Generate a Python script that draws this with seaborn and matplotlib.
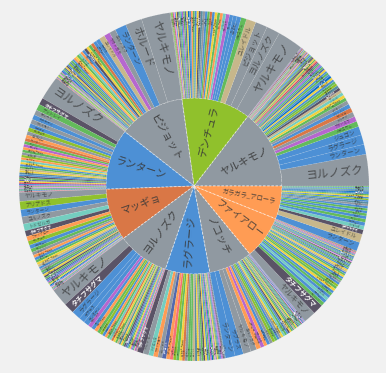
import numpy as np
import matplotlib
matplotlib.use("Agg")
import matplotlib.pyplot as plt
import seaborn as sns

sns.set_theme(style="white")
plt.rcParams['font.family'] = ['Noto Sans CJK JP', 'DejaVu Sans']

BG = "#f1f1f1"

# ---------------- data ----------------
parents = ["ヤルキモノ", "デンチュラ", "ピジョット", "ランターン", "マッギョ",
           "ヨルノズク", "ラグラージ", "ノコッチ", "ファイアロー", "ガラガラ_アローラ"]

type_colors = {
    "normal": "#9099a1", "fire": "#ff9c54", "water": "#4d90d5", "grass": "#63bb5b",
    "electric": "#f3d23b", "ice": "#74cec0", "fighting": "#ce4069", "poison": "#b667cf",
    "ground": "#d97746", "flying": "#8fa8dd", "psychic": "#f97176", "bug": "#90c12c",
    "rock": "#c7b78b", "ghost": "#5269ac", "dragon": "#0a6dc4", "dark": "#5a5366",
    "steel": "#5a8ea1", "fairy": "#ec8fe6",
}

type_members = {
    "normal": ["ヤルキモノ", "ヨルノズク", "ピジョット", "ホルード", "ノコッチ", "ミルタンク", "ミミロップ"],
    "water": ["ランターン", "ラグラージ", "ジュゴン", "トリトドン", "マリルリ", "ラプラス", "ヌオー",
              "マンタイン", "ルンパッパ", "キングドラ", "ニョロボン"],
    "grass": ["メガニウム", "ナットレイ", "ウツボット", "フシギバナ", "トロピウス", "エルフーン",
              "ダーテング", "ジャローダ", "ワタッコ"],
    "electric": ["ライチュウ_アローラ", "ゼブライカ", "デデンネ", "エレキブル"],
    "ice": ["トドゼルガ"],
    "rock": ["ユレイドル", "ゴローニャ_アローラ"],
    "dark": ["タチフサグマ", "ブラッキー", "ドンカラス", "ヤミラミ"],
    "steel": ["エアームド", "レジスチル", "ハガネール"],
    "bug": ["デンチュラ", "ツボツボ", "アリアドス"],
    "dragon": ["チルタリス"],
    "ghost": ["オーロット"],
    "poison": ["マタドガス", "ニドクイン", "クロバット"],
    "fighting": ["チャーレム"],
    "fairy": ["ピクシー"],
    "psychic": ["ソーナンス"],
    "fire": ["ファイアロー", "ガラガラ_アローラ", "エンブオー"],
    "ground": ["マッギョ"],
}

yarukimono_names = ["ヨルノズク", "ランターン", "ラグラージ", "ジュゴン", "メガニウム", "マタドガス", "ホルード",
    "マッギョ", "トリトドン", "ピジョット", "ナットレイ", "ライチュウ_アローラ", "トドゼルガ", "ユレイドル",
    "タチフサグマ", "エアームド", "デンチュラ", "ウツボット", "マリルリ", "ゼブライカ", "チルタリス", "ラプラス",
    "フシギバナ", "ヌオー", "デデンネ", "オーロット", "トロピウス", "マンタイン", "ニドクイン", "エルフーン",
    "レジスチル", "チャーレム", "ガラガラ_アローラ", "ダーテング", "エレキブル", "ブラッキー", "ドンカラス",
    "ジャローダ", "ルンパッパ", "キングドラ", "ツボツボ", "ピクシー", "ハガネール", "ソーナンス", "ミルタンク",
    "ワタッコ", "ゴローニャ_アローラ", "ニョロボン", "ファイアロー", "ヤミラミ", "クロバット", "ミミロップ"]
yarukimono_vals = [10.5, 3.3, 3.2, 2.9, 1.8, 1.7, 1.6, 1.5, 1.4, 1.3, 1.1, 1.0, 1.0, 0.95, 0.9, 0.9, 0.85,
    0.8, 0.8, 0.75, 0.75, 0.7, 0.7, 0.65, 0.65, 0.6, 0.6, 0.55, 0.55, 0.5, 0.5, 0.5, 0.45, 0.45, 0.45,
    0.4, 0.4, 0.4, 0.4, 0.35, 0.35, 0.35, 0.3, 0.3, 0.3, 0.3, 0.3, 0.3, 0.25, 0.25, 0.25, 0.25]

denchura_names = ["ヤルキモノ", "ヨルノズク", "ピジョット", "ユレイドル", "メガニウム", "ラグラージ", "ランターン",
    "マリルリ", "マタドガス", "トドゼルガ", "ファイアロー", "ナットレイ", "ライチュウ_アローラ", "ジュゴン",
    "マッギョ", "フシギバナ", "ラプラス", "ホルード", "エアームド", "タチフサグマ", "ゼブライカ", "トリトドン",
    "ウツボット", "ガラガラ_アローラ", "ヌオー", "チルタリス", "デデンネ", "オーロット", "トロピウス",
    "ニドクイン", "マンタイン", "エルフーン", "レジスチル", "ブラッキー", "エレキブル", "キングドラ",
    "ピクシー", "チャーレム", "ワタッコ", "ツボツボ", "ミルタンク"]
denchura_vals = [8.5, 4.5, 4.0, 3.2, 1.8, 1.4, 1.3, 1.2, 1.2, 1.0, 0.95, 0.9, 0.85, 0.85, 0.8, 0.8,
    0.75, 0.75, 0.7, 0.7, 0.65, 0.65, 0.6, 0.6, 0.55, 0.55, 0.5, 0.5, 0.5, 0.45, 0.45, 0.4, 0.4, 0.4,
    0.35, 0.35, 0.35, 0.3, 0.3, 0.3, 0.3]

pijotto_names = ["ヤルキモノ", "ホルード", "ランターン", "ヨルノズク", "マタドガス", "ユレイドル", "ラプラス",
    "ラグラージ", "マッギョ", "ナットレイ", "ライチュウ_アローラ", "タチフサグマ", "ジュゴン", "ファイアロー",
    "トドゼルガ", "フシギバナ", "ゼブライカ", "ガラガラ_アローラ", "マリルリ", "ウツボット", "エアームド",
    "デンチュラ", "トリトドン", "ブラッキー", "デデンネ", "オーロット", "エルフーン", "ヌオー", "チルタリス",
    "ニドクイン", "トロピウス", "ミルタンク", "ピクシー", "ワタッコ", "ダーテング", "エレキブル", "キングドラ",
    "ソーナンス"]
pijotto_vals = [9.5, 5.5, 3.8, 2.1, 2.0, 1.9, 1.3, 1.1, 1.0, 0.95, 0.9, 0.9, 0.85, 0.8, 0.75, 0.75,
    0.7, 0.7, 0.65, 0.6, 0.6, 0.55, 0.55, 0.5, 0.5, 0.45, 0.45, 0.4, 0.4, 0.35, 0.35, 0.3, 0.3, 0.3,
    0.3, 0.3, 0.3, 0.25]

rantan_names = ["ヨルノズク", "タチフサグマ", "ナットレイ", "ホルード", "ラグラージ", "ヤルキモノ", "ラプラス",
    "デンチュラ", "ピジョット", "ファイアロー", "マッギョ", "ウツボット", "マタドガス", "ガラガラ_アローラ",
    "フシギバナ", "ミルタンク", "アリアドス", "エンブオー", "トドゼルガ", "ライチュウ_アローラ", "マリルリ",
    "トロピウス", "ユレイドル", "ゼブライカ", "エアームド", "ジュゴン", "ブラッキー", "エルフーン", "オーロット",
    "デデンネ", "チャーレム", "ヌオー", "ニドクイン", "ダーテング", "ピクシー", "レジスチル", "ワタッコ",
    "キングドラ", "ソーナンス"]
rantan_vals = [8.0, 2.3, 2.1, 1.7, 1.6, 1.5, 1.4, 1.3, 1.2, 1.1, 1.05, 1.0, 0.95, 0.9, 0.9, 0.85,
    0.8, 0.8, 0.75, 0.75, 0.7, 0.7, 0.65, 0.65, 0.6, 0.6, 0.55, 0.55, 0.5, 0.5, 0.45, 0.45, 0.4, 0.4,
    0.35, 0.35, 0.3, 0.3, 0.25]

maggyo_names = ["ヤルキモノ", "アリアドス", "ランターン", "ヨルノズク", "トドゼルガ", "タチフサグマ",
    "ファイアロー", "デンチュラ", "ラグラージ", "ナットレイ", "ピジョット", "ガラガラ_アローラ", "ジュゴン",
    "フシギバナ", "ライチュウ_アローラ", "ユレイドル", "マリルリ", "ホルード", "ウツボット", "エアームド",
    "ゼブライカ", "ブラッキー", "トロピウス", "オーロット", "ラプラス", "マタドガス", "エルフーン", "デデンネ",
    "チルタリス", "ヌオー", "ピクシー", "ワタッコ", "ミルタンク", "キングドラ", "ソーナンス"]
maggyo_vals = [3.0, 2.7, 2.4, 2.4, 2.3, 1.9, 1.6, 1.4, 1.3, 1.2, 1.0, 0.95, 0.9, 0.85, 0.8, 0.8,
    0.75, 0.7, 0.7, 0.65, 0.6, 0.6, 0.55, 0.5, 0.5, 0.45, 0.45, 0.4, 0.4, 0.35, 0.35, 0.3, 0.3, 0.25, 0.2]

yorunozuku_names = ["ヤルキモノ", "タチフサグマ", "ラグラージ", "ラプラス", "ランターン", "マタドガス",
    "マリルリ", "ファイアロー", "ナットレイ", "デンチュラ", "ジュゴン", "ガラガラ_アローラ", "ウツボット",
    "トドゼルガ", "マッギョ", "ライチュウ_アローラ", "フシギバナ", "ユレイドル", "エアームド", "ゼブライカ",
    "トロピウス", "ブラッキー", "オーロット", "トリトドン", "エルフーン", "デデンネ", "ニドクイン", "ヌオー",
    "ワタッコ", "ピクシー", "チャーレム", "キングドラ", "ソーナンス"]
yorunozuku_vals = [6.0, 3.5, 3.0, 1.9, 1.8, 1.3, 1.2, 1.1, 1.0, 0.95, 0.9, 0.85, 0.8, 0.8, 0.75,
    0.7, 0.7, 0.65, 0.6, 0.6, 0.55, 0.55, 0.5, 0.5, 0.45, 0.45, 0.4, 0.4, 0.35, 0.3, 0.3, 0.3, 0.25]

ragurago_names = ["タチフサグマ", "ヤルキモノ", "トドゼルガ", "ファイアロー", "ヨルノズク", "オーロット",
    "ガラガラ_アローラ", "ソーナンス", "デンチュラ", "ナットレイ", "ライチュウ_アローラ", "マッギョ",
    "ピジョット", "フシギバナ", "ウツボット", "ユレイドル", "エアームド", "ゼブライカ", "ホルード",
    "トロピウス", "ブラッキー", "デデンネ", "ジュゴン", "エルフーン", "マタドガス", "チルタリス", "ワタッコ",
    "ピクシー", "ミルタンク", "エレキブル", "ダーテング", "レジスチル", "ヌオー", "クロバット", "ニドクイン",
    "ドンカラス", "ヤミラミ", "ハガネール"]
ragurago_vals = [2.0, 1.9, 1.6, 1.5, 1.4, 1.4, 1.2, 1.1, 1.0, 1.0, 0.95, 0.9, 0.9, 0.85, 0.8, 0.8,
    0.75, 0.7, 0.7, 0.65, 0.6, 0.6, 0.55, 0.5, 0.5, 0.45, 0.45, 0.4, 0.4, 0.35, 0.35, 0.35, 0.35,
    0.3, 0.3, 0.3, 0.25, 0.25]

nokocchi_names = ["ランターン", "ラプラス", "ヤルキモノ", "ヨルノズク", "ガラガラ_アローラ", "マタドガス",
    "ファイアロー", "ラグラージ", "ピジョット", "デンチュラ", "ナットレイ", "ジュゴン", "ホルード",
    "ライチュウ_アローラ", "トドゼルガ", "フシギバナ", "マリルリ", "タチフサグマ", "ゼブライカ", "ウツボット",
    "エアームド", "ユレイドル", "トロピウス", "デデンネ", "オーロット", "エルフーン", "ヌオー", "ワタッコ",
    "ブラッキー", "ピクシー", "チルタリス", "ミルタンク", "ニドクイン", "キングドラ"]
nokocchi_vals = [3.2, 2.8, 2.6, 2.0, 1.5, 1.2, 1.1, 1.0, 0.95, 0.9, 0.85, 0.8, 0.75, 0.7, 0.7, 0.65,
    0.6, 0.6, 0.55, 0.55, 0.5, 0.5, 0.45, 0.45, 0.4, 0.4, 0.35, 0.35, 0.3, 0.3, 0.3, 0.25, 0.25, 0.2]

faiaro_names = ["ヤルキモノ", "タチフサグマ", "ナットレイ", "ラグラージ", "トドゼルガ", "ランターン",
    "フシギバナ", "ジュゴン", "ライチュウ_アローラ", "ウツボット", "デンチュラ", "マリルリ", "ヨルノズク",
    "トロピウス", "ラプラス", "ゼブライカ", "エルフーン", "トリトドン", "ユレイドル", "デデンネ", "ヌオー",
    "ダーテング", "エアームド", "マンタイン", "ワタッコ", "ブラッキー", "ピクシー", "オーロット", "ジャローダ",
    "キングドラ", "レジスチル", "チルタリス", "エレキブル", "ルンパッパ", "ミルタンク", "ニドクイン",
    "ソーナンス", "ハガネール", "マッギョ"]
faiaro_vals = [4.0, 3.5, 1.2, 1.1, 1.0, 1.0, 0.95, 0.9, 0.9, 0.85, 0.8, 0.8, 0.75, 0.7, 0.7, 0.65,
    0.6, 0.6, 0.55, 0.55, 0.5, 0.5, 0.45, 0.45, 0.4, 0.4, 0.35, 0.35, 0.35, 0.35, 0.3, 0.3, 0.3, 0.3,
    0.3, 0.3, 0.25, 0.25, 0.25]

garagara_names = ["ランターン", "ユレイドル", "タチフサグマ", "トドゼルガ", "ラグラージ", "ナットレイ",
    "ジュゴン", "ウツボット", "ラプラス", "トロピウス", "マリルリ", "ヤルキモノ", "エアームド", "トリトドン",
    "デンチュラ", "ヌオー", "ライチュウ_アローラ", "エルフーン", "マンタイン", "チルタリス", "レジスチル",
    "キングドラ", "ワタッコ", "ルンパッパ", "ニョロボン", "ダーテング"]
garagara_vals = [3.0, 2.8, 1.5, 1.3, 1.2, 1.1, 1.0, 0.9, 0.85, 0.8, 0.75, 0.7, 0.65, 0.6, 0.55, 0.5,
    0.5, 0.45, 0.45, 0.4, 0.35, 0.35, 0.3, 0.3, 0.25, 0.25]

children = [
    (yarukimono_names, yarukimono_vals), (denchura_names, denchura_vals),
    (pijotto_names, pijotto_vals), (rantan_names, rantan_vals),
    (maggyo_names, maggyo_vals), (yorunozuku_names, yorunozuku_vals),
    (ragurago_names, ragurago_vals), (nokocchi_names, nokocchi_vals),
    (faiaro_names, faiaro_vals), (garagara_names, garagara_vals),
]

# ---------------- build ----------------
type_of = {n: t for t, ns in type_members.items() for n in ns}
sns.set_palette(sns.color_palette(list(type_colors.values())))

inner_vals = [sum(v) for _, v in children]
inner_cols = [type_colors[type_of[p]] for p in parents]
outer_names, outer_vals = [], []
for names, vals in children:
    for n, v in zip(names, vals, strict=True):
        outer_names.append(n)
        outer_vals.append(v)
outer_cols = [type_colors[type_of[n]] for n in outer_names]

R_OUT, R_IN = 175, 88
PX2PT = 72 / 100

fig = plt.figure(figsize=(3.86, 3.73), dpi=100, facecolor=BG)
ax = fig.add_axes([0, 0, 1, 1])
ax.set_facecolor(BG)

ax.pie(inner_vals, radius=R_IN, colors=inner_cols, startangle=0, counterclock=True,
       wedgeprops=dict(edgecolor=(1, 1, 1, 0.6), linewidth=0.6, linestyle=(0, (3, 2))))
ax.pie(outer_vals, radius=R_OUT, colors=outer_cols, startangle=0, counterclock=True,
       wedgeprops=dict(width=R_OUT - R_IN, edgecolor=(1, 1, 1, 0.3), linewidth=0.3,
                       linestyle=(0, (2, 2))))

ax.set_xlim(-194, 192)
ax.set_ylim(-187, 186)
ax.set_aspect('equal')
ax.axis('off')

light_text_types = {"dark", "ghost", "dragon"}


def put_label(theta, r, text, fs, color, weight, outer):
    th = np.deg2rad(theta)
    x, y = r * np.cos(th), r * np.sin(th)
    rot = theta % 360
    if 90 < rot < 270:
        rot -= 180
        ha = 'left' if outer else 'center'
    else:
        ha = 'right' if outer else 'center'
    ax.text(x, y, text, rotation=rot, rotation_mode='anchor', ha=ha, va='center',
            fontsize=fs, color=color, fontweight=weight)


total = sum(inner_vals)
start = 0.0
for p, v in zip(parents, inner_vals):
    span = v / total * 360
    mid = start + span / 2
    fs_px = min(10.5, 57 / len(p))
    put_label(mid, 56, p, fs_px * PX2PT, (0.22, 0.22, 0.22, 0.9), 'normal', False)
    start += span

start = 0.0
for n, v in zip(outer_names, outer_vals):
    span = v / total * 360
    mid = start + span / 2
    fs_px = min(11.5, max(1.9, 0.75 * np.deg2rad(span) * 150))
    t = type_of[n]
    if t in light_text_types:
        col, w = (1, 1, 1, 0.95), 'bold'
    else:
        col, w = (0.2, 0.2, 0.2, 0.75), 'normal'
    put_label(mid, R_OUT - 5, n, fs_px * PX2PT, col, w, True)
    start += span

fig.savefig("out.png", dpi=100, facecolor=BG)
